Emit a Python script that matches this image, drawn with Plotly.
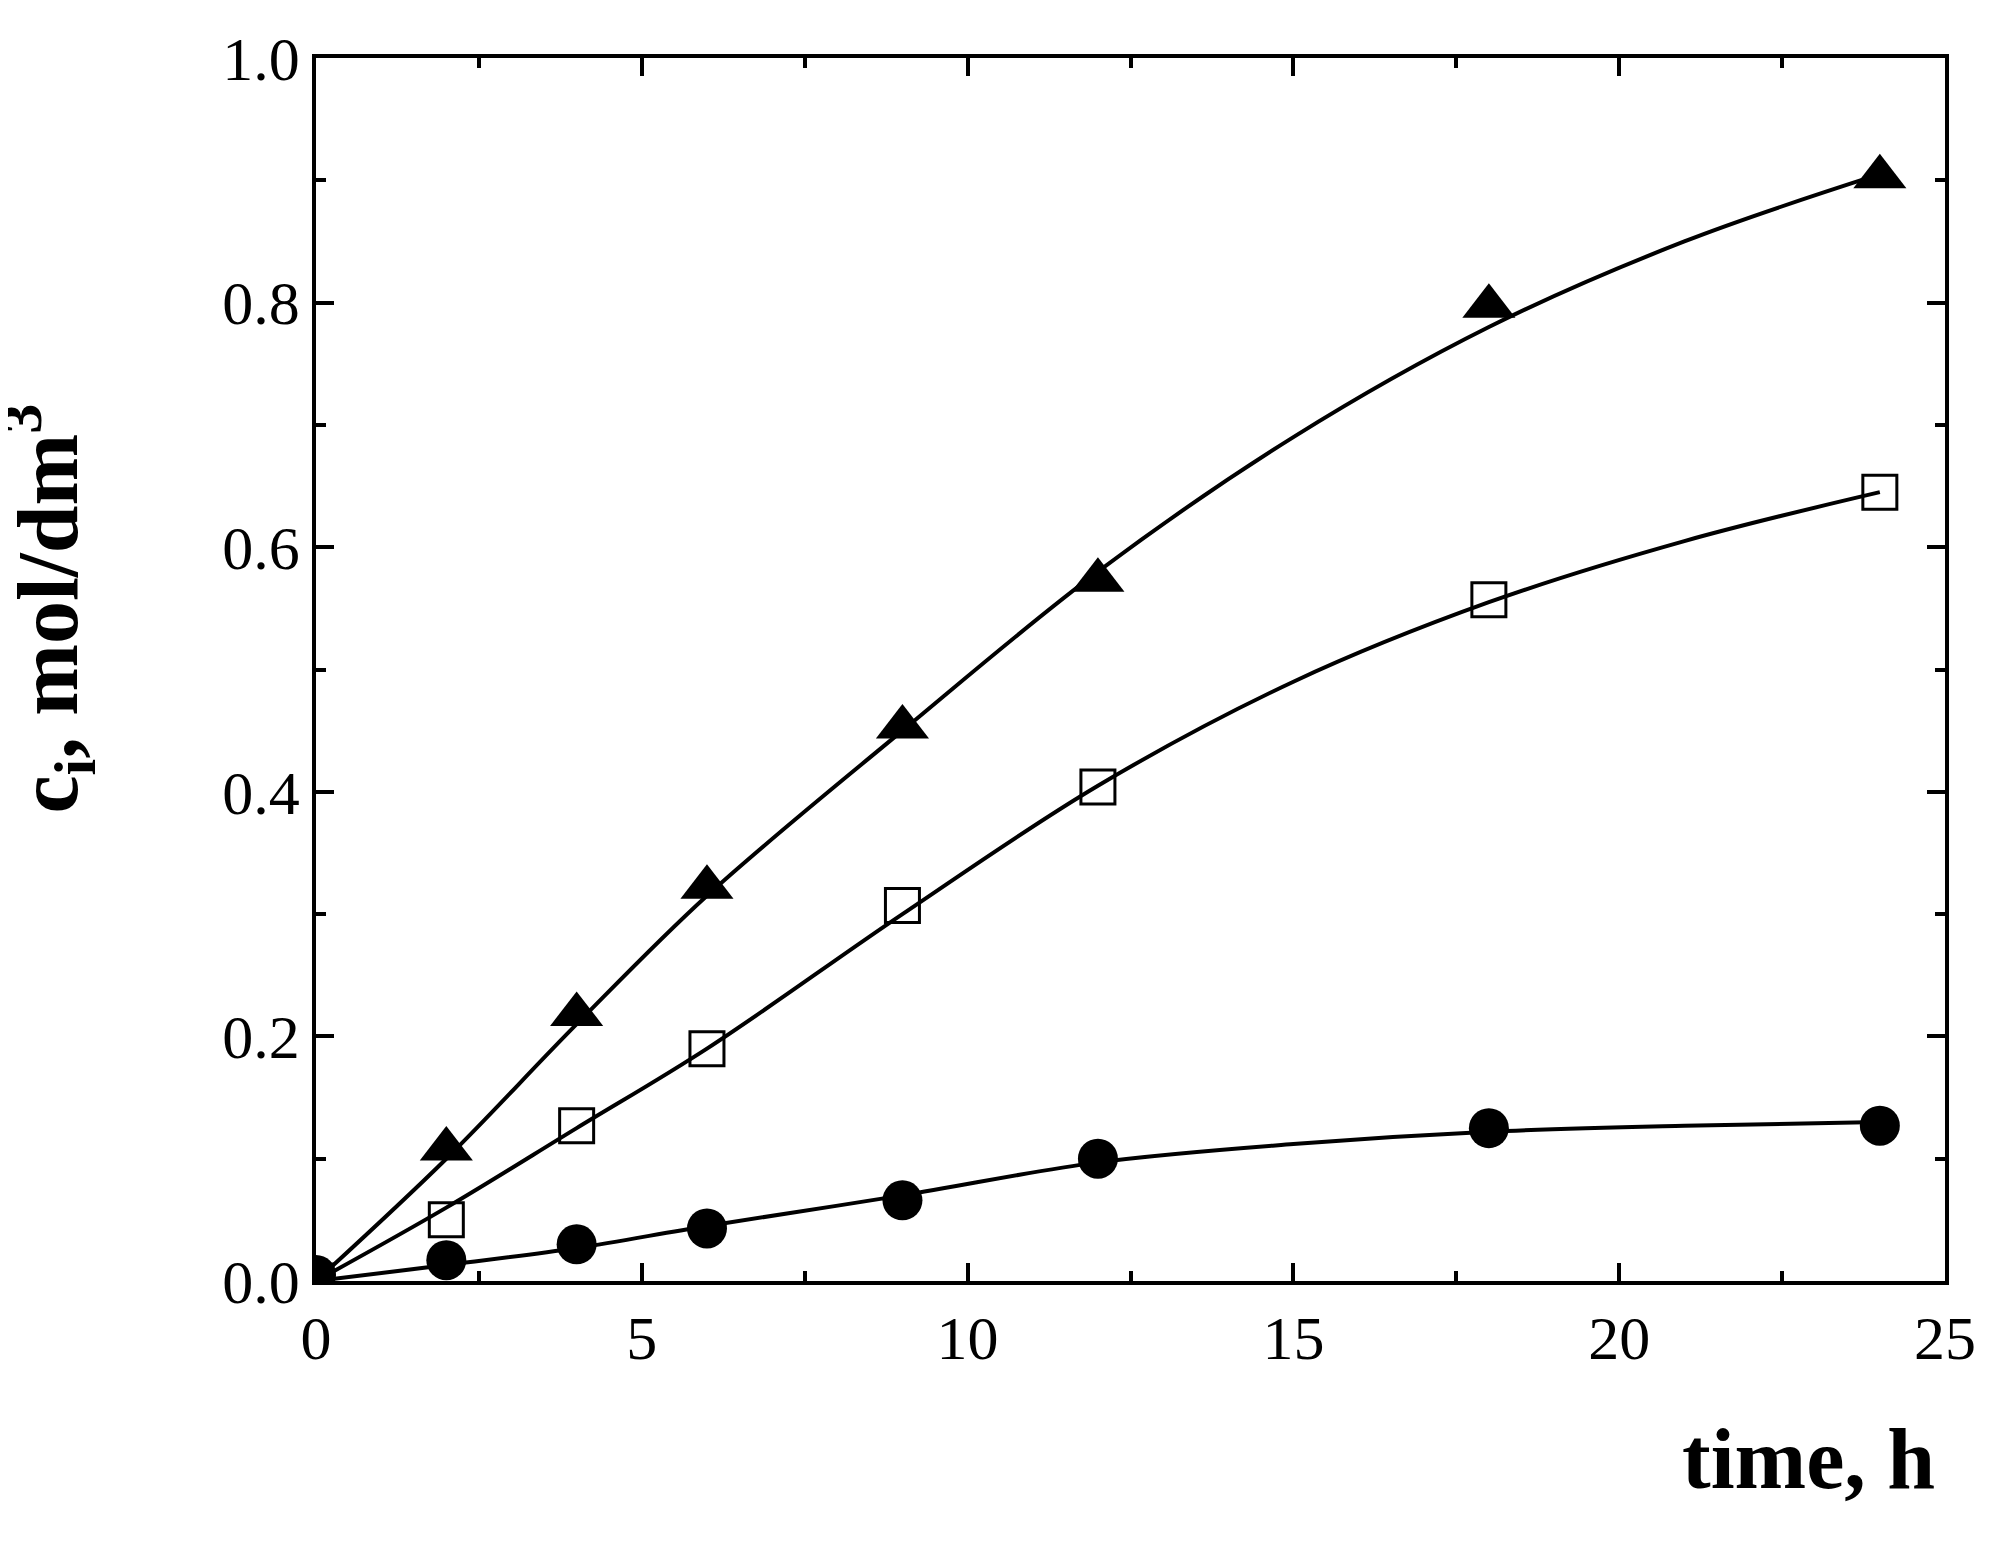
import plotly.graph_objects as go

t_pts = [0, 2, 4, 6, 9, 12, 18, 24]
tri = [0.0, 0.108, 0.218, 0.322, 0.453, 0.573, 0.797, 0.903]
sq = [0.0, 0.05, 0.127, 0.19, 0.307, 0.404, 0.557, 0.645]
circ = [0.005, 0.017, 0.03, 0.043, 0.066, 0.1, 0.125, 0.127]

t_fit = [0, 2, 4, 6, 9, 12, 15, 18, 21, 24]
tri_fit = [0.0, 0.1, 0.21, 0.315, 0.45, 0.58, 0.69, 0.78, 0.85, 0.905]
sq_fit = [0.0, 0.06, 0.125, 0.19, 0.3, 0.405, 0.49, 0.555, 0.605, 0.645]
circ_fit = [0.0, 0.013, 0.027, 0.045, 0.07, 0.097, 0.112, 0.122, 0.127, 0.13]

fig = go.Figure()
for yf in (tri_fit, sq_fit, circ_fit):
    fig.add_trace(go.Scatter(x=t_fit, y=yf, mode="lines", line=dict(color="black", width=4, shape="spline"), showlegend=False))
fig.add_trace(go.Scatter(x=t_pts, y=tri, mode="markers", marker=dict(symbol="triangle-up", size=46, color="black"), showlegend=False))
fig.add_trace(go.Scatter(x=t_pts, y=sq, mode="markers", marker=dict(symbol="square-open", size=34, color="black", line=dict(width=3)), showlegend=False))
fig.add_trace(go.Scatter(x=t_pts, y=circ, mode="markers", marker=dict(symbol="circle", size=40, color="black"), showlegend=False))

ax = dict(showgrid=False, zeroline=False, showline=True, linecolor="black", linewidth=3.5, mirror="ticks",
          ticks="inside", ticklen=18, tickwidth=3.5, tickcolor="black",
          tickfont=dict(family="Liberation Serif", size=62, color="black"))
fig.update_xaxes(**ax, range=[0, 25], dtick=5, minor=dict(ticks="inside", ticklen=10, tickwidth=3.5, dtick=2.5, tickcolor="black"))
fig.update_yaxes(**ax, range=[0, 1.0], dtick=0.2, tickformat=".1f", minor=dict(ticks="inside", ticklen=10, tickwidth=3.5, dtick=0.1, tickcolor="black"))
fig.update_layout(width=2004, height=1556, plot_bgcolor="white", paper_bgcolor="white",
                  margin=dict(l=308, r=67, t=50, b=283),
                  annotations=[
                      dict(text="time, h", xref="paper", yref="paper", x=0.995, y=-0.105, xanchor="right", yanchor="top",
                           showarrow=False, font=dict(family="Liberation Serif", size=86, color="black", weight="bold")),
                      dict(text="c<sub>i</sub>, mol/dm<sup>3</sup>", xref="paper", yref="paper", x=-0.165, y=0.55, textangle=-90,
                           xanchor="center", yanchor="middle", showarrow=False,
                           font=dict(family="Liberation Serif", size=86, color="black", weight="bold"))])
fig.write_html("out.html")
